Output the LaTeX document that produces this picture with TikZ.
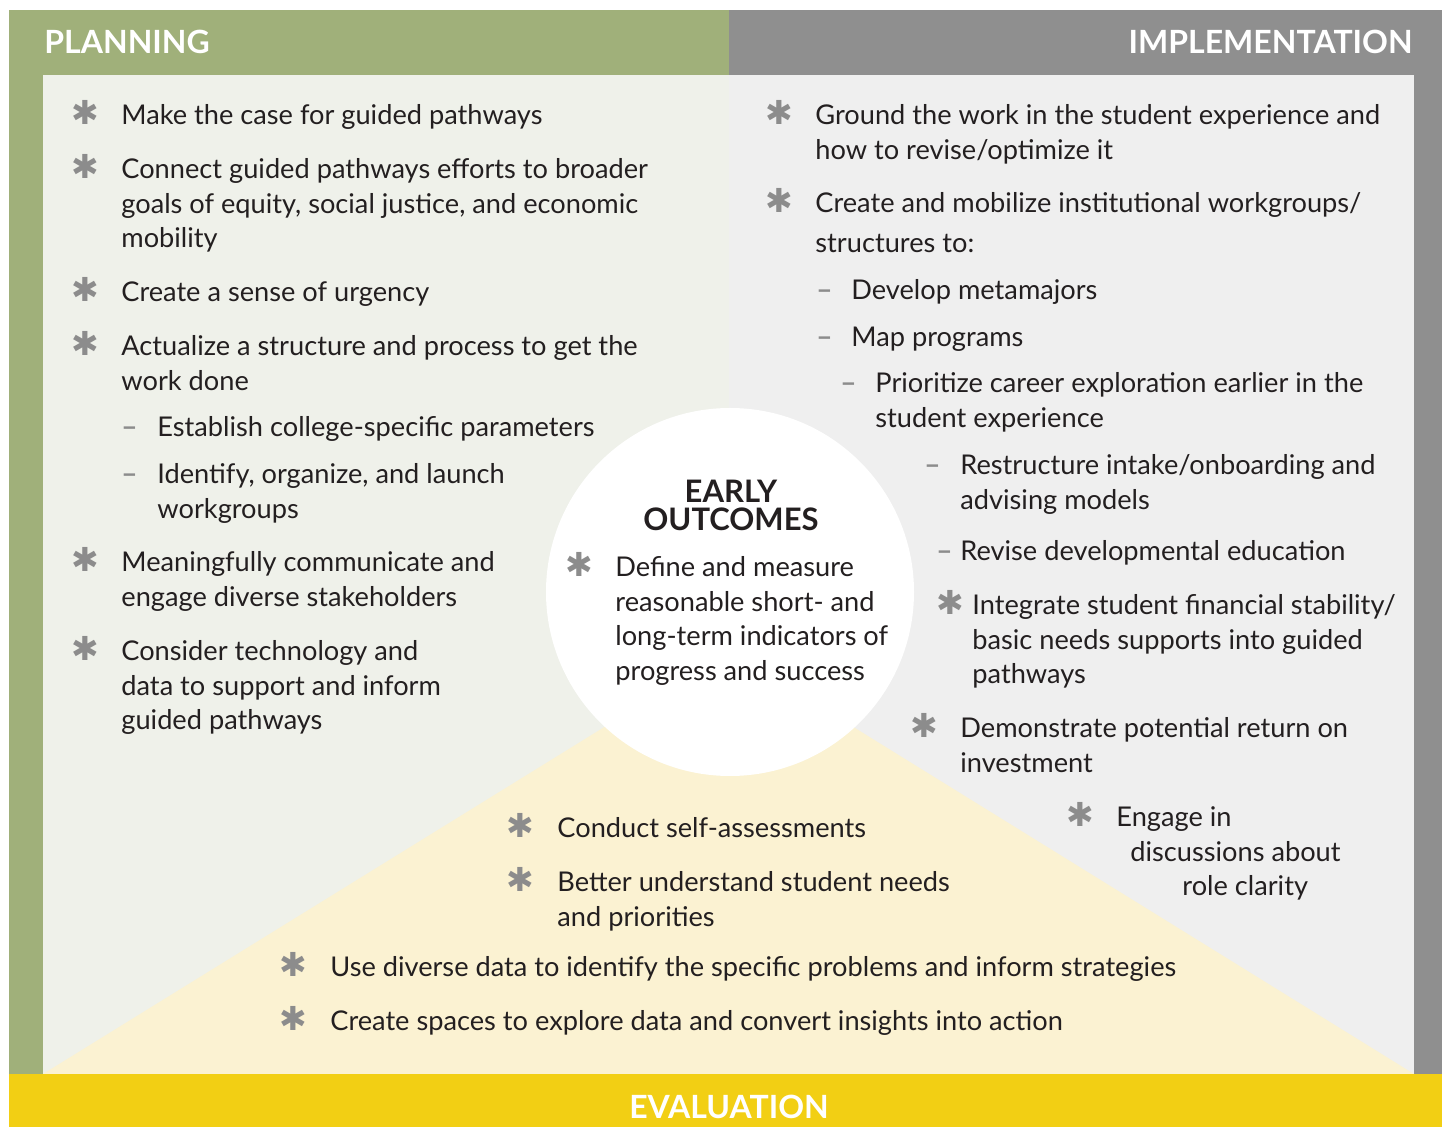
\documentclass[tikz,border=0pt]{standalone}
\usepackage{fontspec}
\setmainfont{Lato}
\newfontfamily\symfont{DejaVu Sans}
\usetikzlibrary{calc}

\definecolor{plangreen}{HTML}{A0B07A}
\definecolor{impgray}{HTML}{8F8F8F}
\definecolor{planbg}{HTML}{EFF1EA}
\definecolor{impbg}{HTML}{EFEFEF}
\definecolor{evalbg}{HTML}{FBF2D2}
\definecolor{evalyellow}{HTML}{F2CF14}
\definecolor{ink}{HTML}{231F20}
\definecolor{markgray}{HTML}{8C8C8C}

\newcommand{\astmark}{{\symfont ✱}}

% multi-line entries are placed by the baseline of their last line
\tikzset{
  entry/.style={anchor=base west, align=left, inner sep=0pt, text=ink,
    font=\fontsize{13.6}{17.25}\selectfont},
  bul/.style={anchor=base, inner sep=0pt, text=markgray,
    font=\fontsize{16.5}{16.5}\selectfont},
  dsh/.style={anchor=base west, inner sep=0pt, text=markgray,
    font=\fontsize{14}{14}\selectfont\bfseries},
  head/.style={anchor=base, inner sep=0pt, text=white,
    font=\fontsize{16}{16}\selectfont\bfseries},
}

\begin{document}
\begin{tikzpicture}[x=0.5pt,y=-0.5pt]
      \useasboundingbox (0,0) rectangle (1442,1127);

      % panels
      \fill[plangreen] (9,10) rectangle (729,1074);
      \fill[impgray] (729,10) rectangle (1442,1074);
      \fill[planbg] (43,75) rectangle (729,1074);
      \fill[impbg] (729,75) rectangle (1414,1074);
      \fill[evalbg] (43,1074) -- (729,650) -- (1414,1074) -- cycle;
      \fill[evalyellow] (9,1074) rectangle (1442,1127);
      \fill[white] (730,592) circle (184);

      \node[head, anchor=base west] (plan) at (44,54) {PLANNING};
      \node[head, anchor=base east] (impl) at (1413,54) {IMPLEMENTATION};
      \node[head] (eval) at (729,1119) {EVALUATION};

      \begin{scope}[yshift=-1pt]
      % planning
      \node[bul] (pb1) at (85,123) {\astmark};
      \node[entry] (p1) at (121,123) {Make the case for guided pathways};
      \node[bul] (pb2) at (85,177) {\astmark};
      \node[entry] (p2) at (121,246) {Connect guided pathways efforts to broader\\goals of equity, social justice, and economic\\mobility};
      \node[bul] (pb3) at (85,300) {\astmark};
      \node[entry] (p3) at (121,300) {Create a sense of urgency};
      \node[bul] (pb4) at (85,354) {\astmark};
      \node[entry] (p4) at (121,388.5) {Actualize a structure and process to get the\\work done};
      \node[dsh] (pd1) at (121,435) {–};
      \node[entry] (p4a) at (157,435) {Establish college-specific parameters};
      \node[dsh] (pd2) at (121,482) {–};
      \node[entry] (p4b) at (157,516.5) {Identify, organize, and launch\\workgroups};
      \node[bul] (pb5) at (85,570) {\astmark};
      \node[entry] (p5) at (121,604.5) {Meaningfully communicate and\\engage diverse stakeholders};
      \node[bul] (pb6) at (85,659) {\astmark};
      \node[entry] (p6) at (121,728) {Consider technology and\\data to support and inform\\guided pathways};

      % implementation
      \node[bul] (ib1) at (779,123) {\astmark};
      \node[entry] (i1) at (815,157.5) {Ground the work in the student experience and\\how to revise/optimize it};
      \node[bul] (ib2) at (779,211) {\astmark};
      \node[entry] (i2) at (815,211) {Create and mobilize institutional workgroups/};
      \node[entry] (i2b) at (815,251) {structures to:};
      \node[dsh] (id1) at (816,298) {–};
      \node[entry] (i2c) at (851,298) {Develop metamajors};
      \node[dsh] (id2) at (816,345) {–};
      \node[entry] (i2d) at (851,345) {Map programs};
      \node[dsh] (id3) at (840,391) {–};
      \node[entry] (i2e) at (875,425.5) {Prioritize career exploration earlier in the\\student experience};
      \node[dsh] (id4) at (924,473) {–};
      \node[entry] (i2f) at (960,507.5) {Restructure intake/onboarding and\\advising models};
      \node[dsh] (id5) at (936,559) {–};
      \node[entry] (i2g) at (960,559) {Revise developmental education};
      \node[bul] (ib3) at (950,613) {\astmark};
      \node[entry] (i3) at (972,682) {Integrate student financial stability/\\basic needs supports into guided\\pathways};
      \node[bul] (ib4) at (924,736) {\astmark};
      \node[entry] (i4) at (960,770.5) {Demonstrate potential return on\\investment};
      \node[bul] (ib5) at (1080,825) {\astmark};
      \node[entry] (i5) at (1116,825) {Engage in};
      \node[entry] (i5b) at (1130,860) {discussions about};
      \node[entry] (i5c) at (1182,894) {role clarity};

      % early outcomes
      \node[anchor=base, align=center, inner sep=0pt, text=ink,
        font=\fontsize{15.5}{14}\selectfont\bfseries] (eo) at (731,529) {EARLY\\OUTCOMES};
      \node[bul] (eb1) at (579,575) {\astmark};
      \node[entry] (e1) at (615,678.5) {Define and measure\\reasonable short- and\\long-term indicators of\\progress and success};

      % evaluation
      \node[bul] (vb1) at (520,836) {\astmark};
      \node[entry] (v1) at (557,836) {Conduct self-assessments};
      \node[bul] (vb2) at (520,890) {\astmark};
      \node[entry] (v2) at (557,924.5) {Better understand student needs\\and priorities};
      \node[bul] (vb3) at (293,975) {\astmark};
      \node[entry] (v3) at (330,975) {Use diverse data to identify the specific problems and inform strategies};
      \node[bul] (vb4) at (293,1029) {\astmark};
      \node[entry] (v4) at (330,1029) {Create spaces to explore data and convert insights into action};
      \end{scope}
\end{tikzpicture}
\end{document}
